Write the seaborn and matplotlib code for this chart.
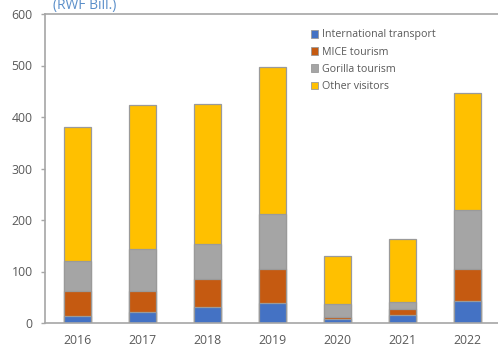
import matplotlib
matplotlib.use("Agg")
import matplotlib.pyplot as plt
import seaborn as sns
import pandas as pd
from matplotlib.patches import Patch

years = ["2016", "2017", "2018", "2019", "2020", "2021", "2022"]
international_transport = [14, 21, 32, 38, 8, 15, 43]
mice_tourism = [48, 41, 53, 66, 4, 12, 62]
gorilla_tourism = [58, 82, 68, 107, 24, 13, 114]
other_visitors = [261, 279, 272, 286, 94, 123, 228]

series_names = ["International transport", "MICE tourism", "Gorilla tourism", "Other visitors"]
series_values = [international_transport, mice_tourism, gorilla_tourism, other_visitors]
colors = ["#4472C4", "#C55A11", "#A5A5A5", "#FFC000"]

sns.set_theme(style="white")
plt.rcParams["font.family"] = ["Open Sans", "DejaVu Sans"]

df = pd.DataFrame({"year": years})
for name, vals in zip(series_names, series_values):
    df[name] = vals

fig = plt.figure(figsize=(4.98, 3.49), dpi=100)
ax = fig.add_axes([45 / 498, 1 - 323 / 349, 455 / 498, 309 / 349])

# stacked bars: draw cumulative totals from the top series down
cum = df[series_names].cumsum(axis=1)
cum["year"] = df["year"]
for name, color in reversed(list(zip(series_names, colors))):
    sns.barplot(data=cum, x="year", y=name, color=color,
                width=0.41, edgecolor="#9A9A9A", linewidth=0.9, ax=ax,
                saturation=1)

ax.set_ylim(0, 600)
ax.set_xlim(-0.5, 6.5)
ax.set_yticks(range(0, 601, 100))
ax.set_xlabel("")
ax.set_ylabel("")
for s in ["left", "bottom", "top", "right"]:
    ax.spines[s].set_color("#A6A6A6")
    ax.spines[s].set_linewidth(1.2)
ax.tick_params(axis="y", which="both", left=True, length=3, width=1, color="#A6A6A6",
               labelsize=8.8, labelcolor="#595959", pad=6)
ax.tick_params(axis="x", length=0, labelsize=8.8, labelcolor="#595959", pad=8)

handles = [Patch(facecolor=c, edgecolor="#9A9A9A", linewidth=0.6) for c in colors]
ax.legend(handles, series_names, loc="upper left", bbox_to_anchor=(266 / 455, 1 - 15.5 / 309),
          frameon=False, fontsize=7.7, labelcolor="#595959", handlelength=0.7,
          handleheight=0.7, handletextpad=0.3, labelspacing=0.58, borderaxespad=0,
          borderpad=0)

fig.text(53 / 498, 1 - 9.5 / 349, "(RWF Bill.)", color="#5B8FC9", fontsize=10,
         va="baseline", ha="left")

fig.savefig("out.png", dpi=100)
